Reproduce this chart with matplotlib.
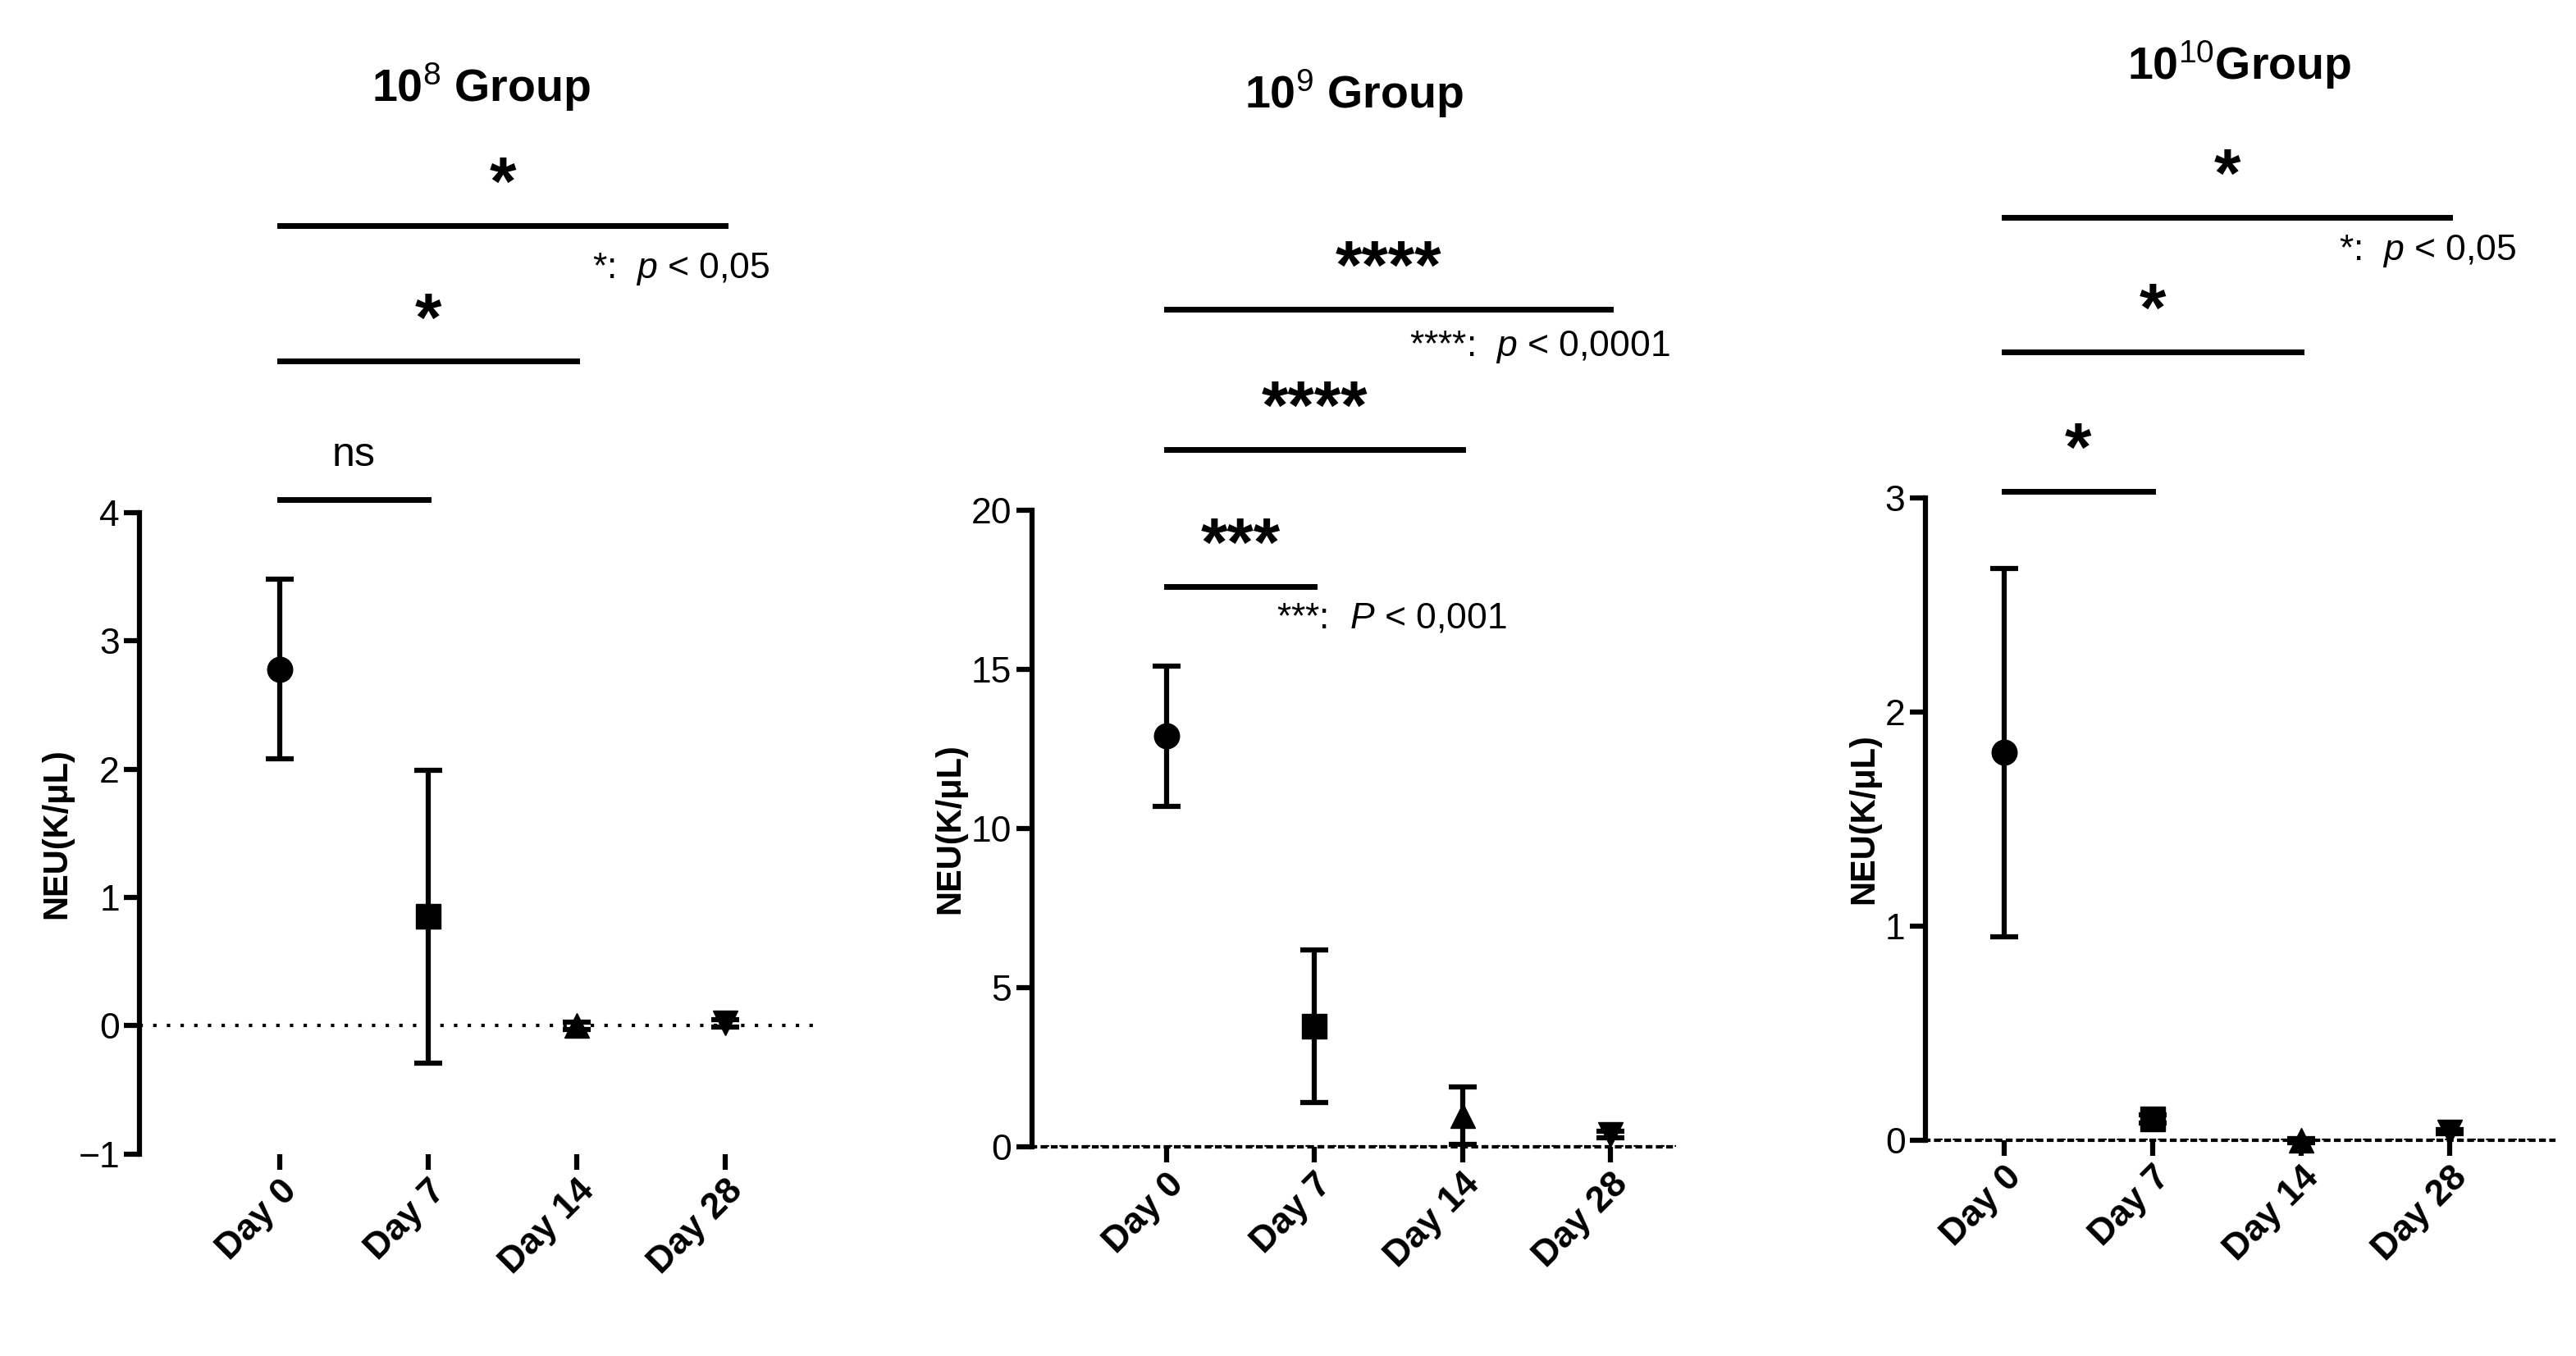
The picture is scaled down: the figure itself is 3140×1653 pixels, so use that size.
import matplotlib
matplotlib.use("Agg")
import matplotlib.pyplot as plt
plt.rcParams["font.family"] = "Liberation Sans"
plt.rcParams["mathtext.fontset"] = "custom"
plt.rcParams["mathtext.it"] = "Liberation Sans:italic"
plt.rcParams["mathtext.rm"] = "Liberation Sans"

days = ["Day 0", "Day 7", "Day 14", "Day 28"]
markers = ["o", "s", "^", "v"]
g8_mean = [2.78, 0.85, 0.0, 0.02]
g8_err = [0.70, 1.14, 0.03, 0.03]
g9_mean = [12.9, 3.8, 1.0, 0.4]
g9_err = [2.2, 2.4, 0.9, 0.1]
g10_mean = [1.81, 0.10, 0.0, 0.04]
g10_err = [0.86, 0.02, 0.01, 0.01]

fig = plt.figure(figsize=(31.4, 16.53), dpi=100)
specs = [
    dict(rect=[0.0542, 0.149, 0.265, 0.473], mean=g8_mean, err=g8_err, ylim=(-1, 4), yt=[-1, 0, 1, 2, 3, 4],
         xlim=(-0.94, 3.65), title="10$^{8}$ Group", ty=1.64,
         br=[(0, 1, 4.1, "ns"), (0, 2, 5.18, "*"), (0, 3, 6.24, "*")],
         leg=(3.3, 5.9, "*:  $p$ < 0,05"), hideb=True),
    dict(rect=[0.4005, 0.154, 0.25, 0.470], mean=g9_mean, err=g9_err, ylim=(0, 20), yt=[0, 5, 10, 15, 20],
         xlim=(-0.91, 3.44), title="10$^{9}$ Group", ty=1.63,
         br=[(0, 1, 17.6, "***"), (0, 2, 21.9, "****"), (0, 3, 26.3, "****")],
         leg=[(2.3, 16.6, "***:  $P$ < 0,001"), (3.4, 25.1, "****:  $p$ < 0,0001")], hideb=False),
    dict(rect=[0.7474, 0.159, 0.244, 0.474], mean=g10_mean, err=g10_err, ylim=(0, 3), yt=[0, 1, 2, 3],
         xlim=(-0.53, 3.7), title="10$^{10}$Group", ty=1.65,
         br=[(0, 1, 3.03, "*"), (0, 2, 3.68, "*"), (0, 3, 4.31, "*")],
         leg=(3.45, 4.15, "*:  $p$ < 0,05"), hideb=False),
]
for s in specs:
    ax = fig.add_axes(s["rect"])
    for i in range(4):
        ax.errorbar(i, s["mean"][i], yerr=s["err"][i], fmt=markers[i], color="black", ms=22,
                    elinewidth=4.5, capsize=12, capthick=4.5, clip_on=False, zorder=3)
    ax.axhline(0, color="black", ls=(0, (1, 3)), lw=3, zorder=1)
    ax.set_xlim(*s["xlim"]); ax.set_ylim(*s["ylim"])
    ax.set_yticks(s["yt"])
    ax.set_xticks(range(4)); ax.set_xticklabels(days, rotation=45, ha="right", rotation_mode="anchor")
    ax.tick_params(labelsize=32, width=4.5, length=14)
    for lbl in ax.get_xticklabels():
        lbl.set_fontweight("bold")
    for sp in ["top", "right"]:
        ax.spines[sp].set_visible(False)
    ax.spines["left"].set_linewidth(4.5)
    if s["hideb"]:
        ax.spines["bottom"].set_visible(False)
    else:
        ax.spines["bottom"].set_linewidth(3)
        ax.spines["bottom"].set_linestyle((0, (1, 2)))
    ax.set_ylabel("NEU(K/μL)", fontsize=30, fontweight="bold")
    ax.text(0.5, s["ty"], s["title"], transform=ax.transAxes, ha="center", fontsize=40, fontweight="bold")
    rng = s["ylim"][1] - s["ylim"][0]
    for a, b, y, t in s["br"]:
        ax.plot([a, b], [y, y], color="black", lw=5, clip_on=False)
        if t == "ns":
            ax.text((a + b) / 2, y + rng * 0.04, t, ha="center", va="bottom", fontsize=36)
        else:
            ax.text((a + b) / 2, y + rng * 0.01, t, ha="center", va="bottom", fontsize=60, fontweight="bold")
    legs = s["leg"] if isinstance(s["leg"], list) else [s["leg"]]
    for x, y, t in legs:
        ax.text(x, y, t, ha="right", va="center", fontsize=32)

fig.savefig("out.png", dpi=100)
